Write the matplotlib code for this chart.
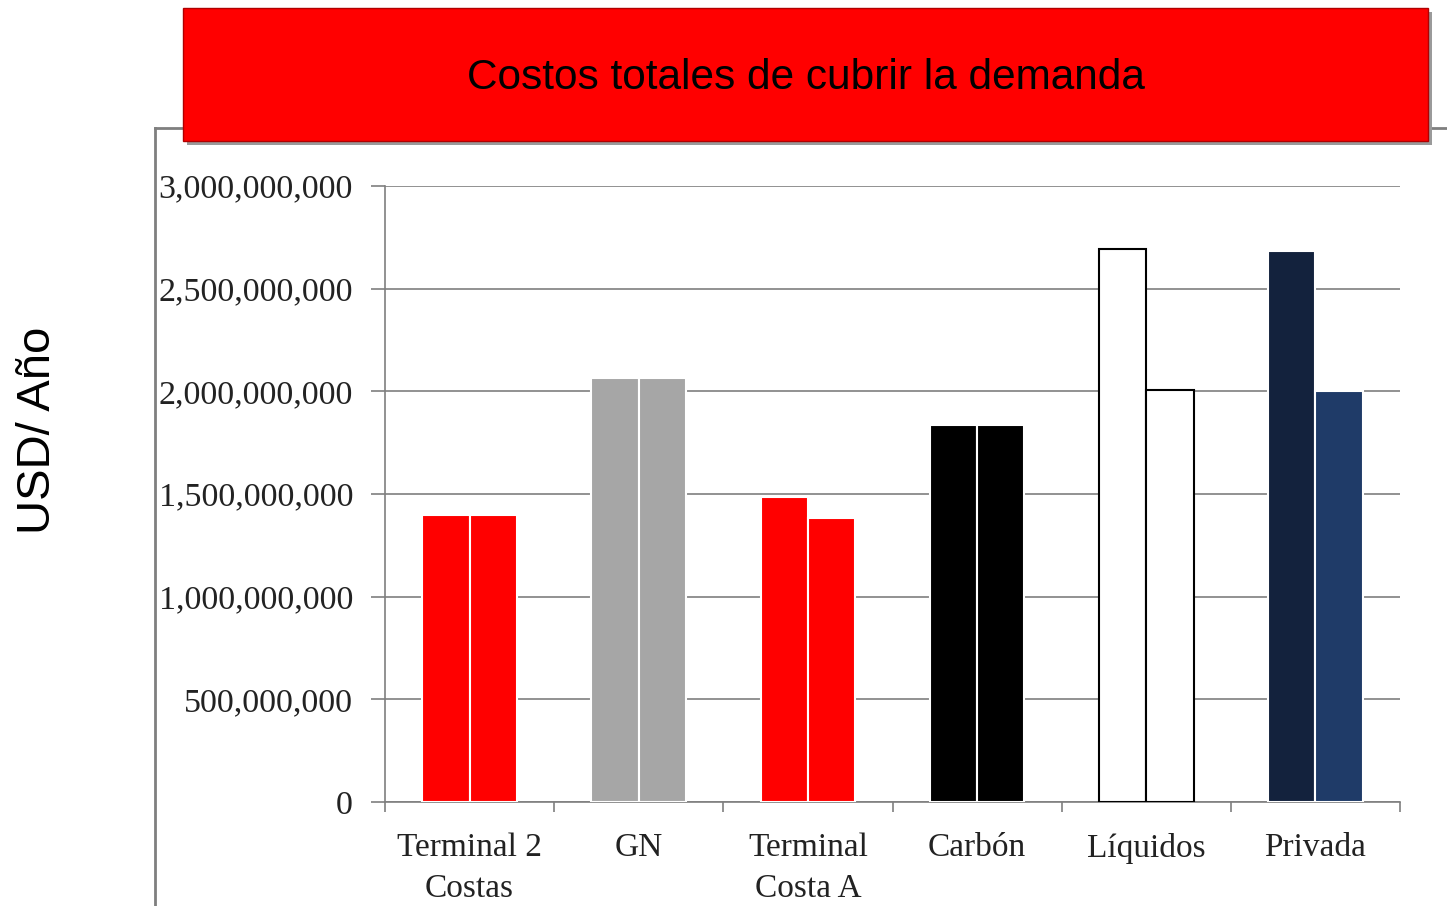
import matplotlib.pyplot as plt
import numpy as np
from matplotlib.patches import Rectangle
from matplotlib.lines import Line2D
from matplotlib.ticker import FuncFormatter


categorias = ["Terminal 2\nCostas", "GN", "Terminal\nCosta A", "Carbón", "Líquidos", "Privada"]
costo_a = [1.400e9, 2.065e9, 1.486e9, 1.836e9, 2.693e9, 2.684e9]
costo_b = [1.400e9, 2.065e9, 1.383e9, 1.836e9, 2.007e9, 2.002e9]
colores_a = ["#ff0000", "#a6a6a6", "#ff0000", "#000000", "#ffffff", "#13223d"]
colores_b = ["#ff0000", "#a6a6a6", "#ff0000", "#000000", "#ffffff", "#1f3b68"]
bordes = ["white", "white", "white", "white", "black", "white"]

W, H = 1447, 906
fig = plt.figure(figsize=(W / 100, H / 100), dpi=100)

# marco del panel
gris = "#7f7f7f"
fig.add_artist(Line2D([155 / W, 155 / W], [0, 1 - 128 / H], color=gris, lw=2))
fig.add_artist(Line2D([155 / W, 1], [1 - 128 / H, 1 - 128 / H], color=gris, lw=2))

# banda del titulo
fig.add_artist(Rectangle((187 / W, 1 - 145 / H), 1245 / W, 133 / H,
                         transform=fig.transFigure, facecolor="#9a9a9a", edgecolor="none", zorder=2))
fig.add_artist(Rectangle((183 / W, 1 - 141 / H), 1245 / W, 133 / H,
                         transform=fig.transFigure, facecolor="#ff0000", edgecolor="#b00000", lw=1, zorder=3))
fig.text(806 / W, 1 - 78 / H, "Costos totales de cubrir la demanda", ha="center", va="center",
         fontsize=30.5, family="Liberation Sans", zorder=4)

fig.text(38 / W, 1 - 430 / H, "USD/ Año", rotation=90, ha="center", va="center",
         fontsize=34, family="Liberation Sans")

ax = fig.add_axes([385 / W, 1 - 802 / H, 1015 / W, 616 / H])
x = np.arange(len(categorias))
w = 0.28
for i in x:
    ax.bar(i - w / 2, costo_a[i], w, color=colores_a[i], edgecolor=bordes[i], lw=1.5, zorder=3)
    ax.bar(i + w / 2, costo_b[i], w, color=colores_b[i], edgecolor=bordes[i], lw=1.5, zorder=3)

ax.set_xlim(-0.5, len(categorias) - 0.5)
ax.set_ylim(0, 3e9)
ax.set_yticks(np.arange(0, 3.01e9, 5e8))
ax.yaxis.set_major_formatter(FuncFormatter(lambda v, p: f"{v:,.0f}"))
ax.grid(axis="y", color=gris, lw=1.2, zorder=0)
ax.tick_params(axis="y", length=10, color=gris, width=1.2, pad=13, labelsize=24.5)
ax.set_xticks(x)
ax.set_xticklabels(categorias, fontsize=24, linespacing=1.45)
ax.set_xticks(np.arange(-0.5, len(categorias), 1), minor=True)
ax.tick_params(axis="x", which="major", length=0, pad=22)
ax.tick_params(axis="x", which="minor", length=7, color=gris, width=1.2)
for lab in ax.get_xticklabels() + ax.get_yticklabels():
    lab.set_family("Liberation Serif")
    lab.set_color("#222222")
for s in ["top", "right"]:
    ax.spines[s].set_visible(False)
ax.spines["left"].set_color(gris)
ax.spines["bottom"].set_color(gris)
ax.spines["left"].set_linewidth(1.2)
ax.spines["bottom"].set_linewidth(1.2)

fig.savefig("out.png", dpi=100)
